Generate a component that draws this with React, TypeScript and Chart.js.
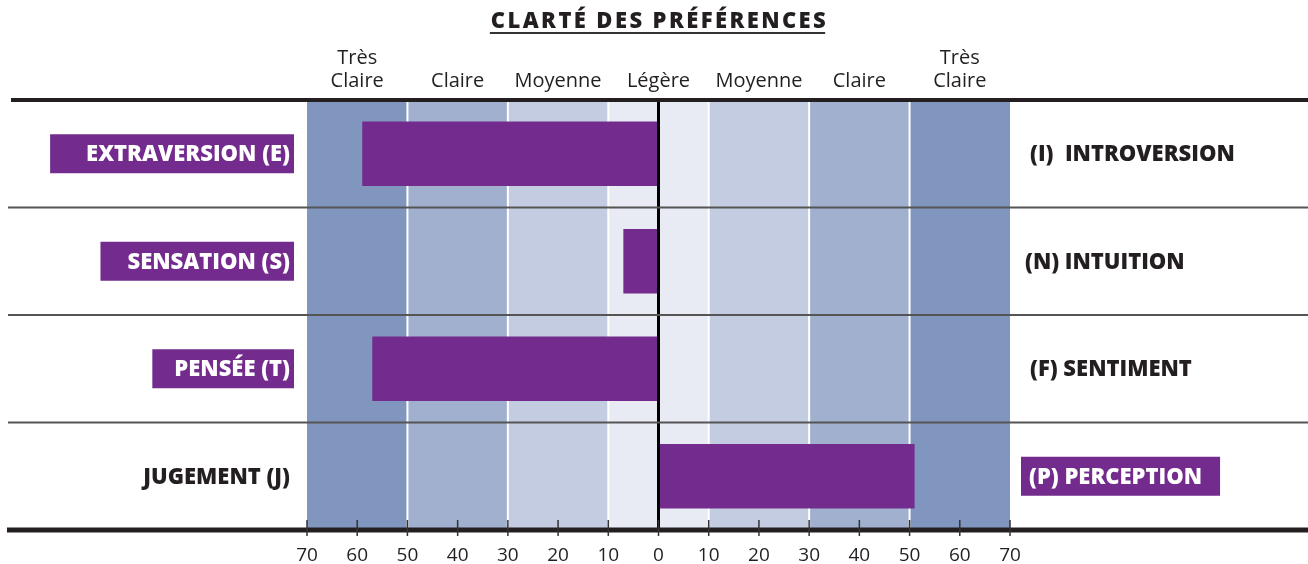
import React, { useEffect, useRef } from "react";
import { Chart, registerables } from "chart.js";
Chart.register(...registerables);

const TITLE = "CLARTÉ DES PRÉFÉRENCES";
const categories = ["E-I", "S-N", "T-F", "J-P"];
const leftLabels = ["EXTRAVERSION (E)", "SENSATION (S)", "PENSÉE (T)", "JUGEMENT (J)"];
const rightLabels = ["(I)  INTROVERSION", "(N) INTUITION", "(F) SENTIMENT", "(P) PERCEPTION"];
const scores = [-59, -7, -57, 51];
const headerValues = [-60, -40, -20, 0, 20, 40, 60];
const headerLabels = [["Très", "Claire"], ["Claire"], ["Moyenne"], ["Légère"], ["Moyenne"], ["Claire"], ["Très", "Claire"]];
const bandFrom = [-70, -50, -30, -10, 10, 30, 50];
const bandTo = [-50, -30, -10, 10, 30, 50, 70];
const dividerValues = [-50, -30, -10, 10, 30, 50];
const tickValues = [-70, -60, -50, -40, -30, -20, -10, 0, 10, 20, 30, 40, 50, 60, 70];

const PURPLE = "#732C8E";
const BAND_COLORS = ["#8196BE", "#A1B0CF", "#C3CCE1", "#E8EBF4", "#C3CCE1", "#A1B0CF", "#8196BE"];
const LEFT_BOX_PAD = [36, 27, 22, 28];
const RIGHT_TEXT_X = [1030, 1025, 1030, 1029];
const FONT = "'Open Sans', 'DejaVu Sans', sans-serif";

const decorPlugin = {
  id: "decor",
  beforeDatasetsDraw(chart: any) {
    const { ctx, chartArea } = chart;
    const x = chart.scales.x;
    const top = chartArea.top, bottom = chartArea.bottom;
    ctx.save();
    for (let i = 0; i < bandFrom.length; i++) {
      const a = x.getPixelForValue(bandFrom[i]);
      const b = x.getPixelForValue(bandTo[i]);
      ctx.fillStyle = BAND_COLORS[i];
      ctx.fillRect(a, top, b - a, bottom - top);
    }
    ctx.strokeStyle = "#FFFFFF";
    ctx.lineWidth = 2;
    dividerValues.forEach((v) => {
      const px = x.getPixelForValue(v);
      ctx.beginPath();
      ctx.moveTo(px, top);
      ctx.lineTo(px, bottom);
      ctx.stroke();
    });
    ctx.restore();
  },
  afterDatasetsDraw(chart: any) {
    const { ctx, chartArea } = chart;
    const x = chart.scales.x;
    const y = chart.scales.y;
    const top = chartArea.top, bottom = chartArea.bottom;
    const W = chart.width;
    ctx.save();
    // zero line
    const zx = x.getPixelForValue(0);
    ctx.strokeStyle = "#000000";
    ctx.lineWidth = 3;
    ctx.beginPath();
    ctx.moveTo(zx, top);
    ctx.lineTo(zx, bottom);
    ctx.stroke();
    // row separators
    ctx.strokeStyle = "#555555";
    ctx.lineWidth = 2;
    for (let i = 0; i < categories.length - 1; i++) {
      const py = (y.getPixelForValue(i) + y.getPixelForValue(i + 1)) / 2;
      ctx.beginPath();
      ctx.moveTo(8, py);
      ctx.lineTo(W, py);
      ctx.stroke();
    }
    // top & bottom thick lines
    ctx.strokeStyle = "#231F20";
    ctx.lineWidth = 4;
    ctx.beginPath();
    ctx.moveTo(11, top);
    ctx.lineTo(W, top);
    ctx.stroke();
    ctx.lineWidth = 5;
    ctx.beginPath();
    ctx.moveTo(7, bottom);
    ctx.lineTo(W, bottom);
    ctx.stroke();
    // tick marks
    ctx.strokeStyle = "#333333";
    ctx.lineWidth = 1.5;
    tickValues.forEach((v) => {
      const px = x.getPixelForValue(v);
      ctx.beginPath();
      ctx.moveTo(px, bottom - 10);
      ctx.lineTo(px, bottom + 6);
      ctx.stroke();
    });
    // title
    const cx = x.getPixelForValue(0);
    ctx.font = `800 22px ${FONT}`;
    (ctx as any).letterSpacing = "2.4px";
    ctx.fillStyle = "#231F20";
    ctx.textAlign = "center";
    ctx.textBaseline = "middle";
    ctx.fillText(TITLE, cx + 1, 22);
    const tw = ctx.measureText(TITLE).width;
    ctx.lineWidth = 2;
    ctx.beginPath();
    ctx.moveTo(cx - tw / 2, 33);
    ctx.lineTo(cx + tw / 2 - 2, 33);
    ctx.stroke();
    (ctx as any).letterSpacing = "0px";
    // headers
    ctx.font = `20px ${FONT}`;
    ctx.fillStyle = "#231F20";
    headerValues.forEach((v, i) => {
      const px = x.getPixelForValue(v);
      const lines = headerLabels[i];
      lines.forEach((ln, j) => {
        const py = 81 - (lines.length - 1 - j) * 23;
        ctx.fillText(ln, px, py);
      });
    });
    // side labels
    ctx.font = `800 22px ${FONT}`;
    ctx.textBaseline = "middle";
    for (let i = 0; i < categories.length; i++) {
      const py = y.getPixelForValue(i);
      const leftWin = scores[i] < 0;
      // left
      const lw = ctx.measureText(leftLabels[i]).width;
      const lx = 290;
      if (leftWin) {
        ctx.fillStyle = PURPLE;
        ctx.fillRect(lx - lw - LEFT_BOX_PAD[i], py - 19.5, lw + LEFT_BOX_PAD[i] + 4, 39);
        ctx.fillStyle = "#FFFFFF";
      } else {
        ctx.fillStyle = "#231F20";
      }
      ctx.textAlign = "right";
      ctx.fillText(leftLabels[i], lx, py + 1);
      // right
      const rw = ctx.measureText(rightLabels[i]).width;
      const rx = RIGHT_TEXT_X[i];
      if (!leftWin) {
        ctx.fillStyle = PURPLE;
        ctx.fillRect(rx - 8, py - 19.5, rw + 26, 39);
        ctx.fillStyle = "#FFFFFF";
      } else {
        ctx.fillStyle = "#231F20";
      }
      ctx.textAlign = "left";
      ctx.fillText(rightLabels[i], rx, py + 1);
    }
    ctx.restore();
  },
};

export default function App() {
  const ref = useRef<HTMLCanvasElement | null>(null);
  useEffect(() => {
    if (!ref.current) return;
    const chart = new Chart(ref.current, {
      type: "bar",
      data: {
        labels: categories,
        datasets: [
          {
            data: scores,
            backgroundColor: PURPLE,
            borderWidth: 0,
            barPercentage: 0.6,
            categoryPercentage: 1,
          },
        ],
      },
      options: {
        indexAxis: "y",
        responsive: false,
        maintainAspectRatio: false,
        animation: false,
        layout: { padding: { top: 100, left: 307, right: 298, bottom: 0 } },
        plugins: { legend: { display: false }, tooltip: { enabled: false }, title: { display: false } },
        scales: {
          x: {
            type: "linear",
            min: -70,
            max: 70,
            grid: { display: false },
            border: { display: false },
            afterFit: (s: any) => {
              s.height = 34;
            },
            afterBuildTicks: (s: any) => {
              s.ticks = tickValues.map((v) => ({ value: v }));
            },
            ticks: {
              autoSkip: false,
              maxRotation: 0,
              padding: 6,
              color: "#231F20",
              font: { family: FONT, size: 19 },
              callback: (v: any) => String(Math.abs(Number(v))),
            },
          },
          y: { display: false, offset: true },
        },
      },
      plugins: [decorPlugin],
    });
    return () => chart.destroy();
  }, []);
  return (
    <div style={{ position: "fixed", left: 0, top: 0, width: 1308, height: 564, background: "#fff" }}>
      <canvas ref={ref} width={1308} height={564} style={{ display: "block" }} />
    </div>
  );
}
